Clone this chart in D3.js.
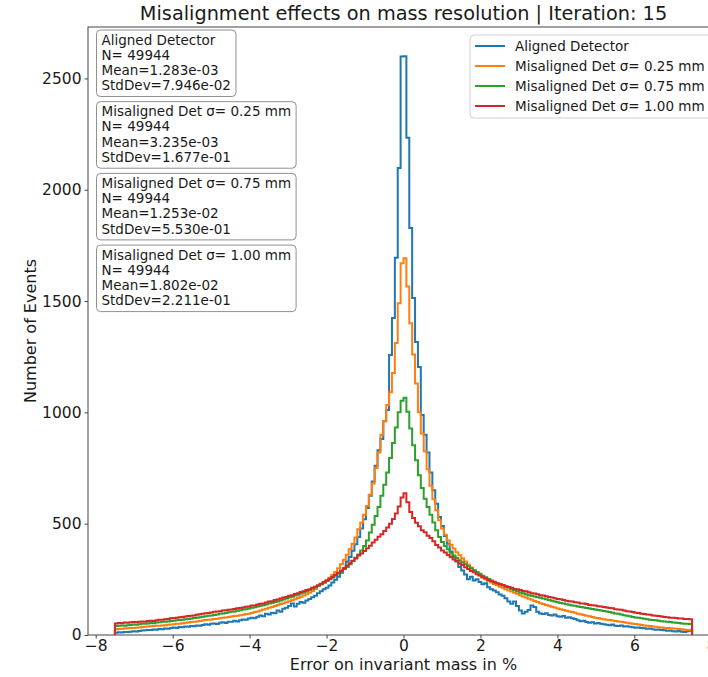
<!DOCTYPE html>
<html>
<head>
<meta charset="utf-8">
<script src="https://cdn.jsdelivr.net/npm/d3@7"></script>
<style>
  body { margin: 0; background: #fff; }
  text { font-family: "DejaVu Sans", sans-serif; fill: #1a1a1a; }
</style>
</head>
<body>
<svg id="chart" width="708" height="677"></svg>
<script>
// Histogram binning: 200 bins of width 0.075 from -7.5 % to +7.5 %
const binStart = -7.5;
const binWidth = 0.075;

// Counts per bin for each detector configuration
const aligned = [
  10,12,11,14,13,15,17,16,18,20,
  21,23,22,25,24,27,26,29,28,31,
  34,32,36,35,38,37,40,39,43,42,
  45,48,46,50,52,49,55,57,54,59,
  60,64,61,66,70,68,74,78,75,82,
  88,84,95,92,100,98,110,104,118,122,
  130,142,128,140,148,145,155,162,170,176,
  188,196,205,212,222,236,248,262,280,300,
  330,350,378,408,440,478,520,570,625,690,
  760,830,880,960,1011,1258,1424,1694,2098,2598,
  2600,2233,1828,1514,1316,1204,988,900,820,730,
  650,590,530,490,445,410,375,350,330,305,
  290,272,250,262,245,250,238,228,232,215,
  205,200,192,182,176,165,150,140,150,130,
  110,97,104,112,132,126,104,97,94,98,
  90,88,92,84,82,85,78,80,75,72,
  66,62,64,58,55,57,52,54,50,48,
  46,44,47,42,40,43,38,39,37,35,
  33,34,31,30,28,29,26,24,25,22,
  21,19,20,17,16,18,15,14,17,19
];
const misaligned025 = [
  26,27,28,29,30,31,32,33,34,36,
  37,38,39,40,41,42,43,44,46,47,
  48,50,51,53,55,56,58,60,61,63,
  65,67,68,70,72,73,75,77,79,81,
  83,85,87,89,91,94,96,99,103,106,
  110,114,118,122,126,130,135,139,143,147,
  152,156,161,166,171,177,183,190,198,207,
  220,228,236,246,257,270,283,300,318,338,
  360,385,410,438,475,505,540,580,630,680,
  750,820,900,960,1033,1090,1177,1312,1490,1670,
  1692,1565,1400,1260,1130,1000,905,825,745,670,
  610,560,515,478,450,425,405,388,372,358,
  345,330,316,303,292,281,268,258,250,243,
  236,229,223,217,212,206,200,195,190,185,
  178,173,168,163,158,153,148,143,139,135,
  131,127,123,119,116,112,109,106,103,100,
  96,93,90,87,84,81,78,76,73,71,
  69,67,65,63,61,59,57,55,53,51,
  49,47,45,43,42,40,38,37,35,34,
  32,31,30,29,28,27,26,24,23,22
];
const misaligned075 = [
  40,41,43,42,44,45,47,46,48,50,
  51,52,54,53,56,57,59,60,61,63,
  64,66,67,69,71,72,74,76,78,80,
  82,84,86,88,90,92,95,97,99,102,
  104,106,109,111,114,116,119,122,125,128,
  131,134,137,141,144,148,151,155,159,164,
  168,172,177,181,186,191,196,202,208,214,
  221,228,235,242,250,258,267,276,286,297,
  305,318,332,347,362,380,400,425,460,495,
  535,575,625,675,730,795,862,932,1000,1052,
  1066,1003,928,852,785,718,660,612,575,540,
  505,470,440,418,400,385,370,357,346,336,
  327,318,309,300,291,283,275,266,259,252,
  245,239,233,228,223,218,213,207,201,196,
  191,187,183,179,176,173,170,167,164,161,
  157,154,150,147,144,141,138,136,133,131,
  128,126,124,121,119,117,115,112,110,108,
  106,103,100,97,95,92,89,87,84,81,
  79,77,75,73,71,69,67,66,64,62,
  61,59,58,56,55,54,52,51,50,49
];
const misaligned100 = [
  52,54,53,56,55,57,58,57,60,61,
  60,63,64,63,66,68,69,71,72,75,
  76,77,80,81,83,85,87,88,91,93,
  95,98,99,101,104,105,107,110,111,113,
  115,117,120,121,124,127,128,132,133,137,
  140,142,146,150,152,157,159,164,168,171,
  176,179,184,187,193,196,202,206,212,217,
  224,230,238,245,253,262,271,280,290,300,
  311,322,334,344,357,366,377,390,401,415,
  428,441,452,467,483,500,521,546,577,618,
  637,596,553,526,504,489,471,461,446,436,
  421,404,393,379,371,359,349,339,332,321,
  314,304,297,287,282,273,267,259,255,247,
  243,237,232,228,225,219,216,212,207,205,
  202,198,197,192,188,186,183,179,177,174,
  171,169,165,162,161,157,154,152,150,147,
  146,142,141,139,135,134,132,129,128,126,
  124,121,120,116,114,113,110,107,105,103,
  100,99,96,94,92,91,88,86,85,83,
  81,80,78,78,76,74,74,72,72,71
];

const seriesNames = [
  "Aligned Detector",
  "Misaligned Det \u03c3= 0.25 mm",
  "Misaligned Det \u03c3= 0.75 mm",
  "Misaligned Det \u03c3= 1.00 mm"
];
const seriesCounts = [aligned, misaligned025, misaligned075, misaligned100];
const seriesColors = ["#1f77b4", "#ff7f0e", "#2ca02c", "#d62728"];

// Summary statistics printed in the boxes
const statN = ["49944", "49944", "49944", "49944"];
const statMean = ["1.283e-03", "3.235e-03", "1.253e-02", "1.802e-02"];
const statStdDev = ["7.946e-02", "1.677e-01", "5.530e-01", "2.211e-01"];

const xTicks = [-8, -6, -4, -2, 0, 2, 4, 6, 8];
const yTicks = [0, 500, 1000, 1500, 2000, 2500];

const titleText = "Misalignment effects on mass resolution | Iteration: 15";
const xLabel = "Error on invariant mass in %";
const yLabel = "Number of Events";

// ---- layout ----
const plot = { left: 88, top: 27, right: 719, bottom: 635 };
const svg = d3.select("#chart");

const x = d3.scaleLinear().domain([-8.2, 8.2]).range([plot.left, plot.right]);
const y = d3.scaleLinear().domain([0, 2731]).range([plot.bottom, plot.top]);

const axisColor = "#444";

// frame
svg.append("rect")
  .attr("x", plot.left).attr("y", plot.top)
  .attr("width", plot.right - plot.left).attr("height", plot.bottom - plot.top)
  .attr("fill", "none").attr("stroke", axisColor).attr("stroke-width", 1);

// histogram outlines (matplotlib "step" style)
const stepLine = d3.line()
  .x(d => x(d[0]))
  .y(d => y(d[1]))
  .curve(d3.curveStepAfter);

const plotArea = svg.append("g");
seriesCounts.forEach((counts, i) => {
  const pts = [[binStart, 0]];
  counts.forEach((c, k) => pts.push([binStart + k * binWidth, c]));
  pts.push([binStart + counts.length * binWidth, 0]);
  plotArea.append("path")
    .attr("d", stepLine(pts))
    .attr("fill", "none")
    .attr("stroke", seriesColors[i])
    .attr("stroke-width", 2)
    .attr("stroke-linejoin", "miter");
});

// axes
const xAxis = d3.axisBottom(x).tickValues(xTicks).tickSize(3.5).tickPadding(1.5)
  .tickFormat(d => d < 0 ? "\u2212" + Math.abs(d) : String(d));
const yAxis = d3.axisLeft(y).tickValues(yTicks).tickSize(3.5).tickPadding(3)
  .tickFormat(d3.format("d"));

const gx = svg.append("g").attr("transform", `translate(0,${plot.bottom})`).call(xAxis);
const gy = svg.append("g").attr("transform", `translate(${plot.left},0)`).call(yAxis);
[gx, gy].forEach(g => {
  g.select(".domain").remove();
  g.selectAll(".tick line").attr("stroke", axisColor);
  g.selectAll(".tick text").attr("font-size", 15.5).attr("fill", "#1a1a1a")
    .attr("font-family", "DejaVu Sans, sans-serif");
});

// title and axis labels
svg.append("text")
  .attr("x", (plot.left + plot.right) / 2).attr("y", 20)
  .attr("text-anchor", "middle").attr("font-size", 19.3)
  .text(titleText);

svg.append("text")
  .attr("x", (plot.left + plot.right) / 2).attr("y", 670)
  .attr("text-anchor", "middle").attr("font-size", 16)
  .text(xLabel);

svg.append("text")
  .attr("transform", `translate(36,${(plot.top + plot.bottom) / 2}) rotate(-90)`)
  .attr("text-anchor", "middle").attr("font-size", 16)
  .text(yLabel);

// statistics boxes
const boxTop0 = 30, boxStep = 71.7, boxH = 66.5, lineH = 15.2;
seriesNames.forEach((name, i) => {
  const g = svg.append("g");
  const top = boxTop0 + i * boxStep;
  const lines = [name, "N= " + statN[i], "Mean=" + statMean[i], "StdDev=" + statStdDev[i]];
  const rect = g.append("rect")
    .attr("x", 96.5).attr("y", top).attr("height", boxH)
    .attr("rx", 4).attr("ry", 4)
    .attr("fill", "#fff").attr("fill-opacity", 0.9)
    .attr("stroke", "#909090").attr("stroke-width", 1);
  let maxW = 0;
  lines.forEach((t, j) => {
    const tx = g.append("text")
      .attr("x", 101.5).attr("y", top + 14.5 + j * lineH)
      .attr("font-size", 13.5).text(t);
    maxW = Math.max(maxW, tx.node().getComputedTextLength());
  });
  rect.attr("width", maxW + 10);
});

// legend
const legend = svg.append("g");
legend.append("rect")
  .attr("x", 470).attr("y", 35).attr("width", 260).attr("height", 83)
  .attr("rx", 4).attr("ry", 4)
  .attr("fill", "#fff").attr("fill-opacity", 0.85)
  .attr("stroke", "#d0d0d0").attr("stroke-width", 1);
seriesNames.forEach((name, i) => {
  const cy = 46 + i * 20;
  legend.append("line")
    .attr("x1", 475).attr("x2", 505).attr("y1", cy).attr("y2", cy)
    .attr("stroke", seriesColors[i]).attr("stroke-width", 2);
  legend.append("text")
    .attr("x", 515).attr("y", cy + 4.8)
    .attr("font-size", 13.5).text(name);
});
</script>
</body>
</html>
